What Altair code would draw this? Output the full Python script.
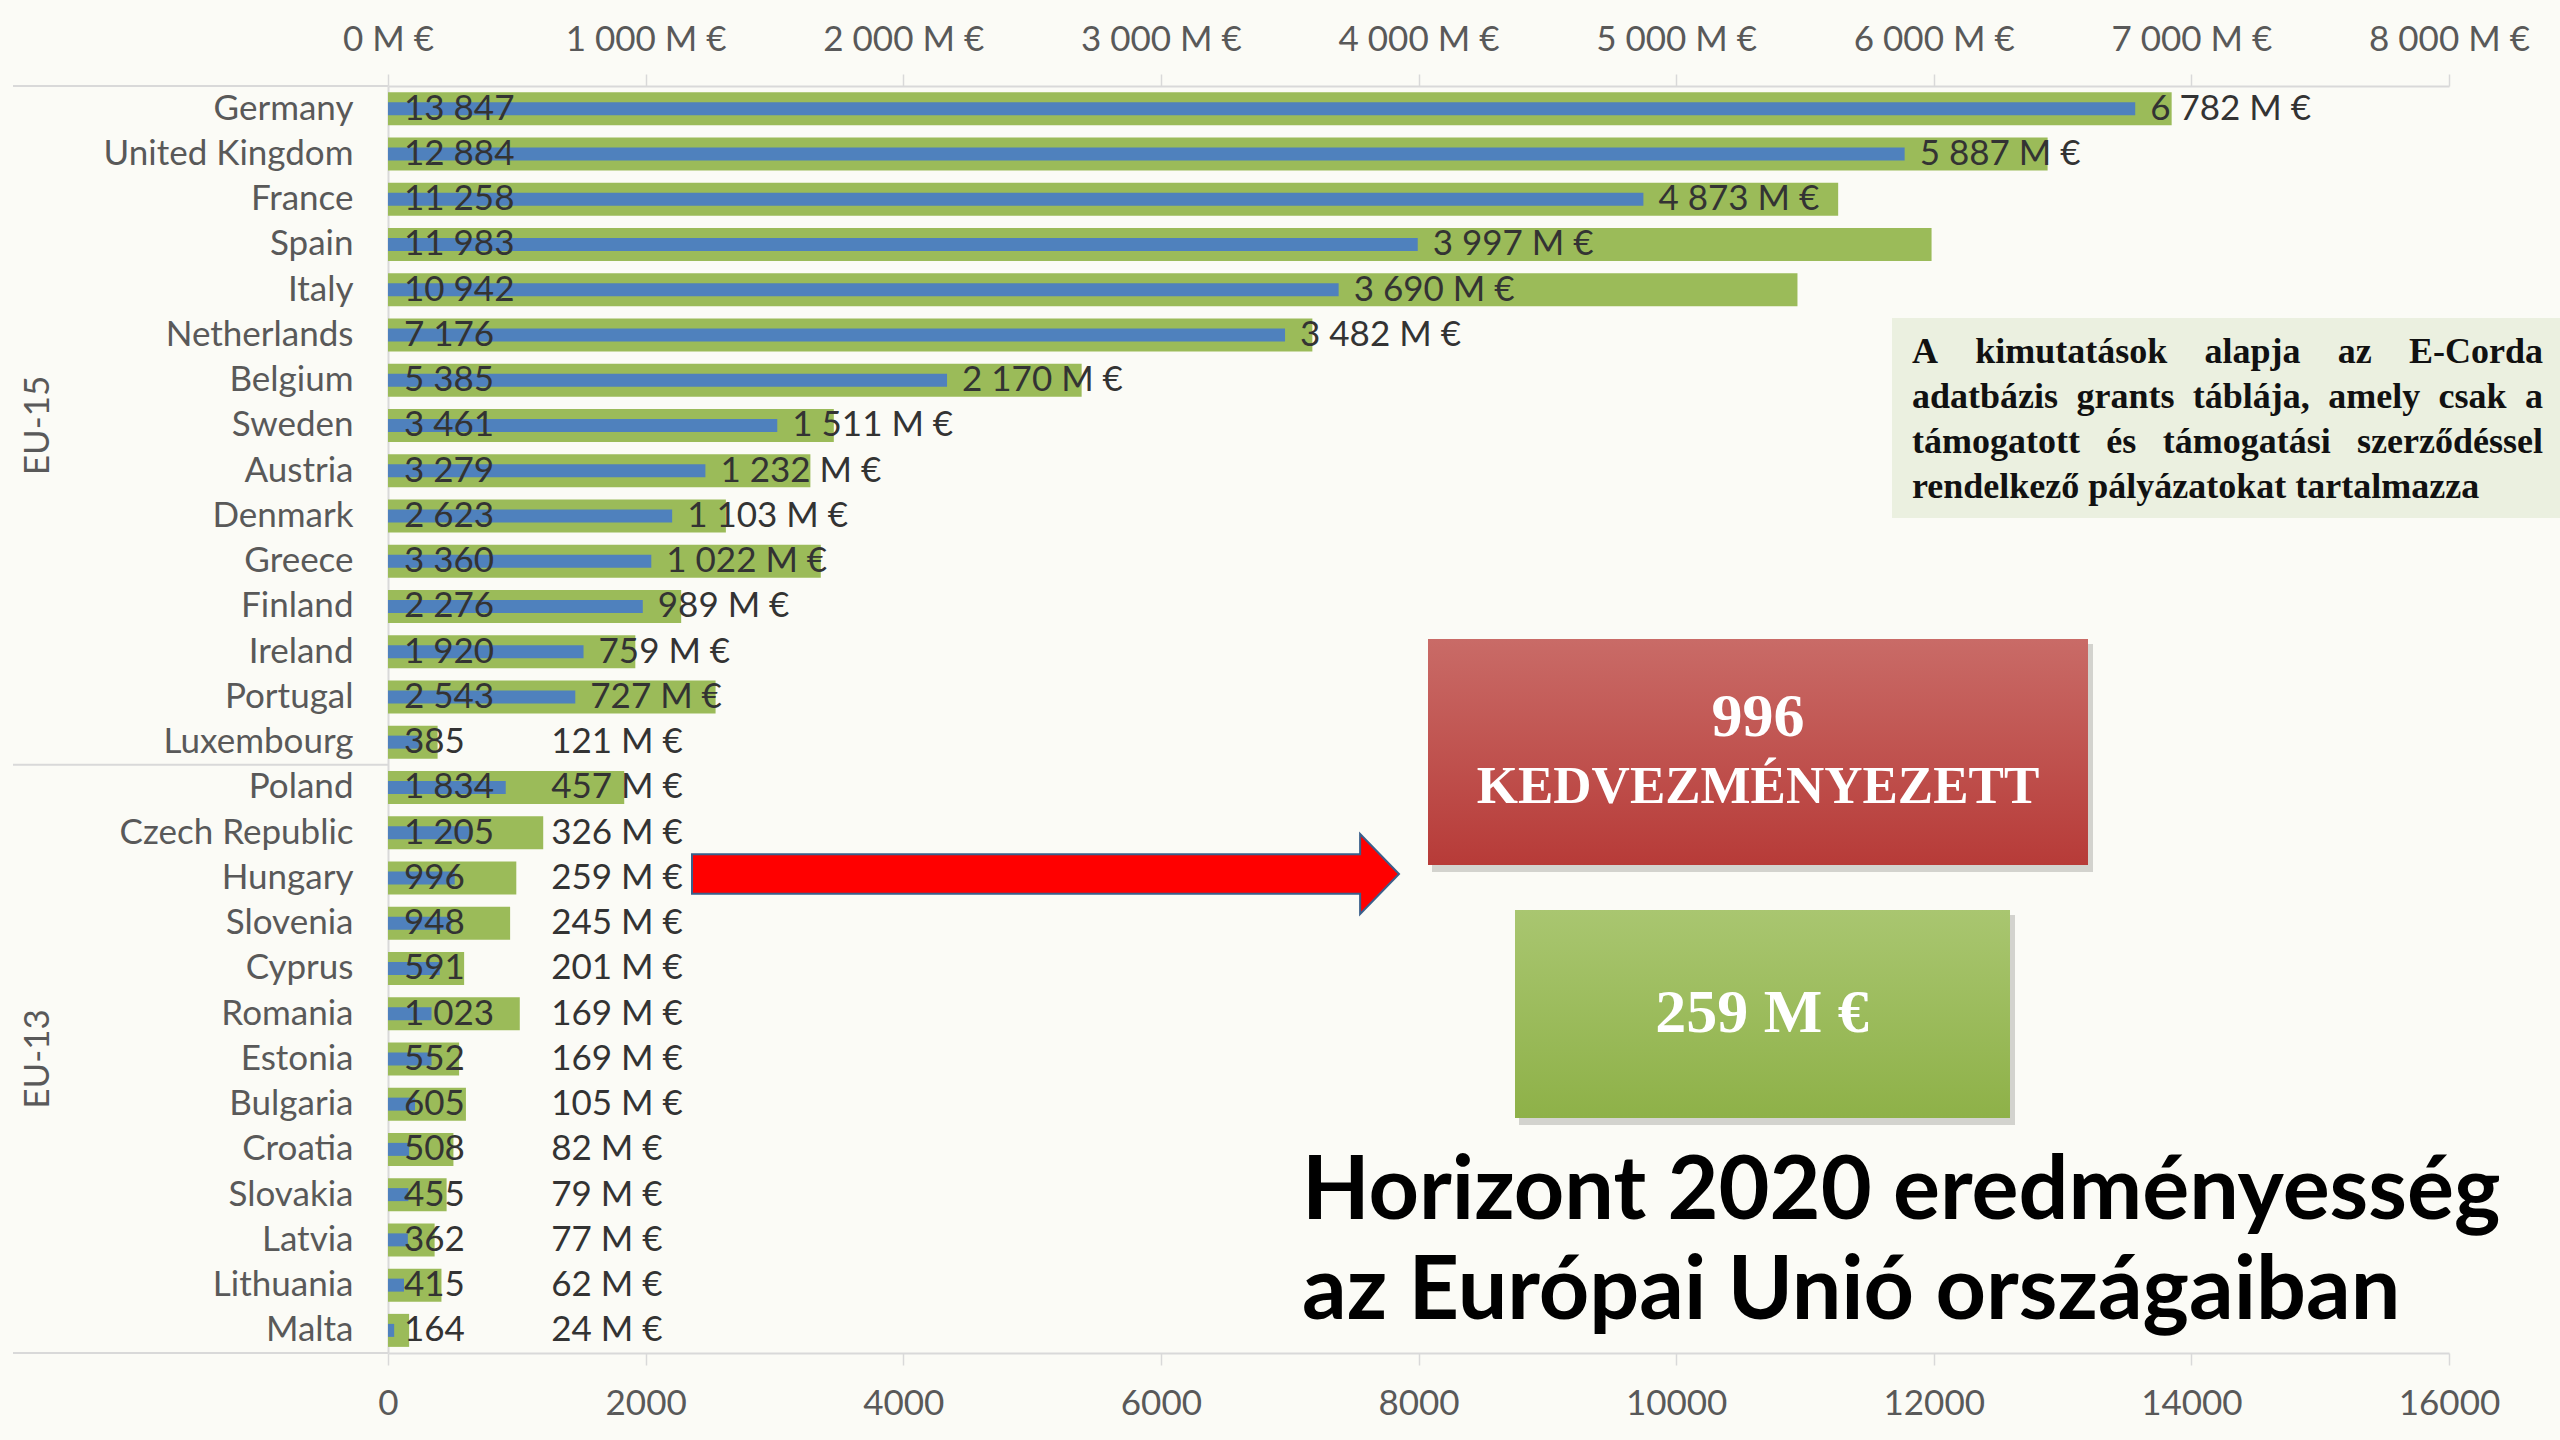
import altair as alt
import pandas as pd

# ---------------- data ----------------
countries = ["Germany", "United Kingdom", "France", "Spain", "Italy", "Netherlands",
             "Belgium", "Sweden", "Austria", "Denmark", "Greece", "Finland", "Ireland",
             "Portugal", "Luxembourg", "Poland", "Czech Republic", "Hungary", "Slovenia",
             "Cyprus", "Romania", "Estonia", "Bulgaria", "Croatia", "Slovakia", "Latvia",
             "Lithuania", "Malta"]
groups = ["EU-15"] * 15 + ["EU-13"] * 13
participants = [13847, 12884, 11258, 11983, 10942, 7176, 5385, 3461, 3279, 2623, 3360,
                2276, 1920, 2543, 385, 1834, 1205, 996, 948, 591, 1023, 552, 605, 508,
                455, 362, 415, 164]
funding = [6782, 5887, 4873, 3997, 3690, 3482, 2170, 1511, 1232, 1103, 1022, 989, 759,
           727, 121, 457, 326, 259, 245, 201, 169, 169, 105, 82, 79, 77, 62, 24]

participant_ticks = [0, 2000, 4000, 6000, 8000, 10000, 12000, 14000, 16000]
funding_ticks = [0, 1000, 2000, 3000, 4000, 5000, 6000, 7000, 8000]
group_labels = ["EU-15", "EU-13"]

note_lines = ["A kimutatások alapja az E-Corda",
              "adatbázis grants táblája, amely csak a",
              "támogatott és támogatási szerződéssel",
              "rendelkező pályázatokat tartalmazza"]
title_lines = ["Horizont 2020 eredményesség", "az Európai Unió országaiban"]
red_box_lines = ["996", "KEDVEZMÉNYEZETT"]
green_box_line = "259 M €"

df = pd.DataFrame({"country": countries, "group": groups,
                   "participants": participants, "funding": funding})
one = pd.DataFrame({"k": [0]})

# ---------------- layout / style ----------------
W, H = 2061, 1267
PAD = {"left": 388, "top": 86, "right": 111, "bottom": 87}
GREEN = "#9BBB59"
BLUE = "#4F81BD"
AXIS_GRAY = "#D9D9D9"
LABEL_GRAY = "#595959"
TEXT_DARK = "#333333"
FONT = "Lato"
SERIF = "Liberation Serif"
BAND = H / len(countries)

yenc = alt.Y("country:N", title=None,
             scale=alt.Scale(domain=countries, paddingInner=0, paddingOuter=0),
             axis=alt.Axis(labelFontSize=35, labelColor=LABEL_GRAY, labelFont=FONT,
                           labelPadding=35, tickSize=0, ticks=False, labelLimit=500,
                           domainColor=AXIS_GRAY, domainWidth=2))

bottom_axis = alt.Axis(orient="bottom", values=participant_ticks, format="d",
                       tickSize=12, labelPadding=21, grid=False, labelFlush=False)
top_axis = alt.Axis(orient="top", values=funding_ticks, tickSize=12,
                    labelPadding=17, grid=False, labelFlush=False,
                    labelExpr="replace(format(datum.value, ',d'), ',', ' ') + ' M €'")
funding_scale = alt.Scale(domain=[0, 8000], nice=False, zero=True)

green_bars = alt.Chart(df).mark_bar(size=33, color=GREEN).encode(
    x=alt.X("participants:Q", title=None,
            scale=alt.Scale(domain=[0, 16000], nice=False, zero=True),
            axis=bottom_axis),
    y=yenc,
)

blue_bars = alt.Chart(df).mark_bar(size=13, color=BLUE).encode(
    x=alt.X("funding:Q", title=None, scale=funding_scale, axis=top_axis),
    y=yenc,
)

part_text = alt.Chart(df).transform_calculate(
    plab="replace(format(datum.participants, ',d'), ',', ' ')"
).mark_text(align="left", baseline="middle", dx=16, fontSize=35, font=FONT,
            color=TEXT_DARK).encode(
    x=alt.value(0), y=yenc, text="plab:N")

fund_text = alt.Chart(df).transform_calculate(
    lx="max(datum.funding, 575)",
    flab="replace(format(datum.funding, ',d'), ',', ' ') + ' M €'"
).mark_text(align="left", baseline="middle", dx=15, fontSize=35, font=FONT,
            color=TEXT_DARK).encode(
    x=alt.X("lx:Q", title=None, scale=funding_scale, axis=top_axis),
    y=yenc, text="flab:N")

blue_layer = alt.layer(blue_bars, part_text, fund_text)


def hrule(x1, x2, y):
    return alt.Chart(one).mark_rule(color=AXIS_GRAY, strokeWidth=2).encode(
        x=alt.value(x1), x2=alt.value(x2), y=alt.value(y))


n15 = groups.count("EU-15")
n13 = groups.count("EU-13")
rules = [hrule(-375, 0, 0), hrule(-375, 0, H), hrule(-375, 0, n15 * BAND)]

group_text = [
    alt.Chart(one).mark_text(text=group_labels[0], angle=270, fontSize=35, font=FONT,
                             color=LABEL_GRAY, align="center", baseline="middle").encode(
        x=alt.value(-350), y=alt.value(n15 / 2 * BAND)),
    alt.Chart(one).mark_text(text=group_labels[1], angle=270, fontSize=35, font=FONT,
                             color=LABEL_GRAY, align="center", baseline="middle").encode(
        x=alt.value(-350), y=alt.value((n15 + n13 / 2) * BAND)),
]


def rect(x1, x2, y1, y2, **kw):
    return alt.Chart(one).mark_rect(**kw).encode(
        x=alt.value(x1), x2=alt.value(x2), y=alt.value(y1), y2=alt.value(y2))


def grad(top, bottom):
    return {"gradient": "linear", "x1": 0, "y1": 0, "x2": 0, "y2": 1,
            "stops": [{"offset": 0, "color": top}, {"offset": 1, "color": bottom}]}


def label(txt, x, y, **kw):
    return alt.Chart(one).mark_text(text=txt, **kw).encode(x=alt.value(x), y=alt.value(y))


# note box (justified text)
NOTE_X, NOTE_W, NOTE_FS = 1524, 631, 36
TB = {" ": 250, "A": 722, "C": 722, "E": 667, "-": 333, ",": 250, "a": 500, "á": 500,
      "b": 556, "c": 444, "d": 556, "e": 444, "é": 444, "g": 500, "i": 278, "j": 333,
      "k": 556, "l": 278, "m": 833, "n": 556, "o": 500, "ő": 500, "ó": 500, "p": 556,
      "r": 444, "s": 389, "t": 333, "u": 556, "y": 500, "z": 444}


def tw(s):
    return sum(TB.get(c, 500) for c in s) * NOTE_FS / 1000


note_layers = [rect(1504, 2172, 232, 432, color="#EBF0E0")]
note_style = dict(font=SERIF, fontSize=NOTE_FS, fontWeight="bold", color="#111111",
                  baseline="alphabetic")
for i, line in enumerate(note_lines):
    yb = 277 + i * 45
    if i == len(note_lines) - 1:
        note_layers.append(label(line, NOTE_X, yb, align="left", **note_style))
        continue
    words = line.split(" ")
    gap = (NOTE_W - sum(tw(w) for w in words)) / (len(words) - 1)
    x = NOTE_X
    for j, w in enumerate(words):
        if j == len(words) - 1:
            note_layers.append(label(w, NOTE_X + NOTE_W, yb, align="right", **note_style))
        else:
            note_layers.append(label(w, x, yb, align="left", **note_style))
        x += tw(w) + gap

# red and green boxes
boxes = [
    rect(1044, 1705, 558, 786, color="#8a8a85", opacity=0.35),
    rect(1040, 1700, 553, 779, fill=grad("#C96B67", "#B73B38")),
    label(red_box_lines[0], 1370, 650, align="center", baseline="alphabetic", font=SERIF,
          fontSize=62, fontWeight="bold", color="white"),
    label(red_box_lines[1], 1370, 717, align="center", baseline="alphabetic", font=SERIF,
          fontSize=53, fontWeight="bold", color="white"),
    rect(1131, 1627, 829, 1039, color="#8a8a85", opacity=0.35),
    rect(1127, 1622, 824, 1032, fill=grad("#A9C670", "#8EB148")),
    label(green_box_line, 1374, 946, align="center", baseline="alphabetic", font=SERIF,
          fontSize=62, fontWeight="bold", color="white"),
]

# arrow
ARROW_PATH = ("M-1,-0.056L0.89,-0.056L0.89,-0.113L1,0L0.89,0.113L0.89,0.056L-1,0.056Z")
arrow = alt.Chart(one).mark_point(shape=ARROW_PATH, size=707 ** 2, filled=True,
                                  fill="#FF0000", stroke="#3A5F8B", strokeWidth=2,
                                  opacity=1).encode(
    x=alt.value(657.5), y=alt.value(788))

# title
titles = [
    label(title_lines[0], 914, 1133, align="left", baseline="alphabetic", font=FONT,
          fontSize=88, fontWeight="bold", color="#000000"),
    label(title_lines[1], 914, 1233, align="left", baseline="alphabetic", font=FONT,
          fontSize=88, fontWeight="bold", color="#000000"),
]

chart = alt.layer(
    green_bars, blue_layer, *rules, *group_text, *note_layers, *boxes, arrow, *titles
).resolve_scale(x="independent").properties(
    width=W, height=H,
    autosize=alt.AutoSizeParams(type="none"),
    padding=PAD,
    background="#FBFBF6",
).configure_view(stroke=None).configure_axis(
    labelFont=FONT, labelFontSize=35, labelColor=LABEL_GRAY,
    domainColor=AXIS_GRAY, domainWidth=2, tickColor=AXIS_GRAY, tickWidth=1.5,
    grid=False,
)

chart.save("out.html", embed_options={"renderer": "svg", "actions": False})
